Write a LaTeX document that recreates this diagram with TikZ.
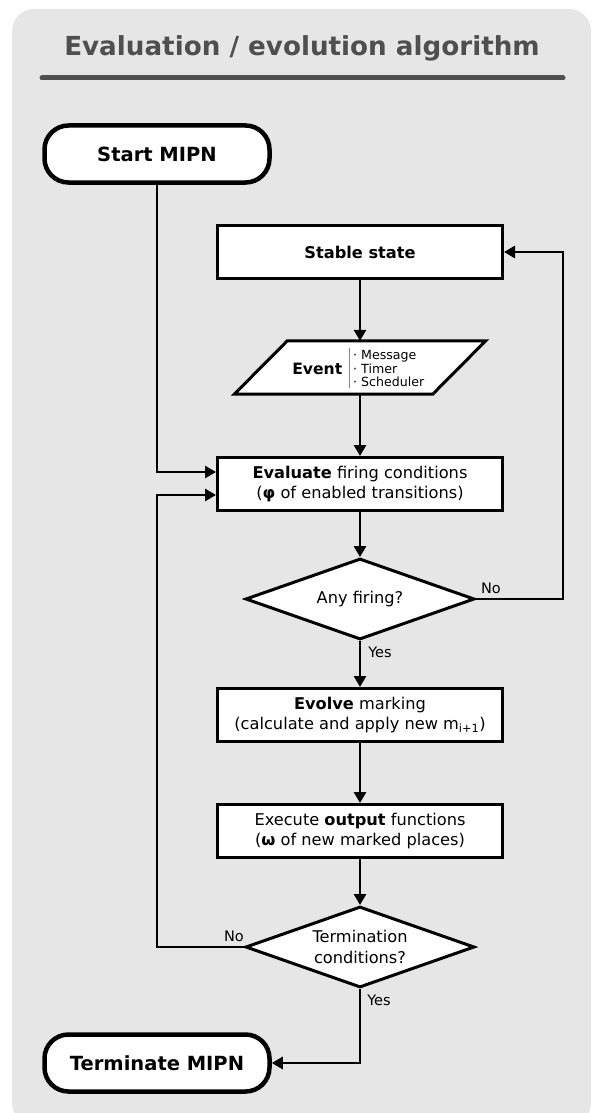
\documentclass[tikz,border=0pt]{standalone}
\usepackage{fontspec}
\setmainfont{DejaVu Sans}
\usetikzlibrary{shapes.geometric,arrows.meta,calc}

\definecolor{panel}{HTML}{E6E6E6}
\definecolor{ink}{HTML}{4F4F4F}
\definecolor{sepgray}{HTML}{8A8A8A}

\tikzset{
  body/.style={font=\fontsize{16.2}{20.3}\selectfont, align=center},
  proc/.style={body, draw, line width=3pt, fill=white, minimum width=285pt,
    minimum height=53pt, inner sep=0pt},
  terminal/.style={draw, line width=4.5pt, fill=white, rounded corners=24pt,
    minimum width=225pt, minimum height=57pt, inner sep=0pt,
    font=\fontsize{19.5}{24}\selectfont\bfseries},
  decision/.style={body, draw, diamond, aspect=2.8, line width=3pt, fill=white,
    minimum width=229pt, minimum height=81pt, inner sep=0pt},
  iobox/.style={minimum width=251pt, minimum height=53pt, inner sep=0pt},
  ioframe/.style={draw, line width=3pt, fill=white, line join=miter},
  flow/.style={line width=2.8pt, -{Triangle[length=11pt,width=12pt]}},
  branch/.style={font=\fontsize{14.5}{16}\selectfont, inner sep=0pt},
}

\begin{document}
\begin{tikzpicture}[x=1pt,y=-1pt]
  \useasboundingbox (0,0) rectangle (592,1113);

  % grey panel and heading
  \fill[panel, rounded corners=22pt] (12,9) rectangle (591,1125);
  \node[font=\fontsize{26.2}{30}\selectfont\bfseries, text=ink, anchor=base]
    (title) at (302,56) {Evaluation / evolution algorithm};
  \draw[ink, line width=5pt, line cap=round] (42,78) -- (563,78);

  % rails for the loop-back connectors
  \coordinate (leftrail) at (157,0);
  \coordinate (rightrail) at (563,0);

  % flowchart blocks
  \node[terminal] (start) at (157,154) {Start MIPN};
  \node[proc, font=\fontsize{16.2}{20.3}\selectfont\bfseries] (stable) at (360,252) {Stable state};

  % input/output parallelogram for the event
  \node[iobox] (event) at (360,367.5) {};
  \draw[ioframe] (event.south west) -- ($(event.north west)+(53,0)$)
    -- (event.north east) -- ($(event.south east)+(-53,0)$) -- cycle;
  \node[font=\fontsize{15.6}{20}\selectfont\bfseries, anchor=base east, inner sep=0pt]
    (eventname) at (342.5,374) {Event};
  \draw[sepgray, line width=1pt] (349,348) -- (349,388);
  \node[font=\fontsize{12.6}{13.6}\selectfont, align=left, anchor=west, inner sep=0pt]
    (eventkinds) at (353,368.5) {· Message\\· Timer\\· Scheduler};

  \node[proc] (eval) at (360,484)
    {\textbf{Evaluate} firing conditions\\(\textbf{φ} of enabled transitions)};
  \node[decision] (anyfire) at (360,599) {Any firing?};
  \node[proc] (evolve) at (360,715)
    {\textbf{Evolve} marking\\(calculate and apply new m\textsubscript{i+1})};
  \node[proc] (exec) at (360,831)
    {Execute \textbf{output} functions\\(\textbf{ω} of new marked places)};
  \node[decision] (termdec) at (360,947) {Termination\\conditions?};
  \node[terminal] (terminate) at (157,1063) {Terminate MIPN};

  % main flow
  \draw[flow] (stable.south) -- (event.north);
  \draw[flow] (event.south) -- (eval.north);
  \draw[flow] (eval.south) -- (anyfire.north);
  \draw[flow] (anyfire.south) -- (evolve.north);
  \draw[flow] (evolve.south) -- (exec.north);
  \draw[flow] (exec.south) -- (termdec.north);

  % entry, loops and exit
  \draw[flow] (start.south) |- ([yshift=12pt]eval.west);
  \draw[flow] (anyfire.east) -- (anyfire.east -| rightrail) |- (stable.east);
  \draw[flow] (termdec.west) -- (termdec.west -| leftrail) |- ([yshift=-11pt]eval.west);
  \draw[flow] (termdec.south) |- (terminate.east);

  % branch labels
  \node[branch] (anyno) at (491,588) {No};
  \node[branch] (anyyes) at (380,652) {Yes};
  \node[branch] (termno) at (234,936) {No};
  \node[branch] (termyes) at (379,1000) {Yes};
\end{tikzpicture}
\end{document}
